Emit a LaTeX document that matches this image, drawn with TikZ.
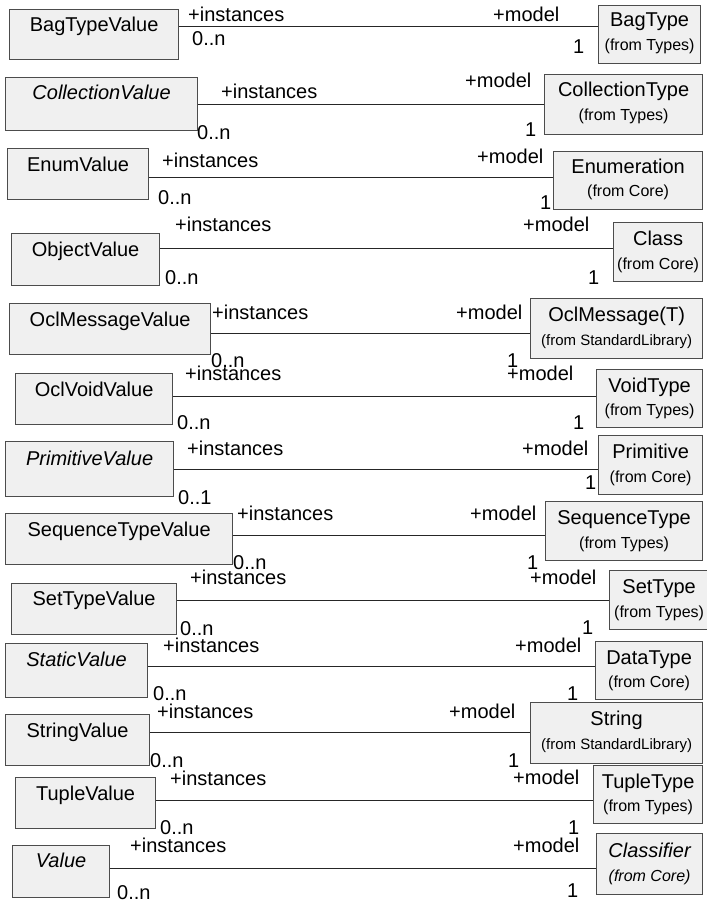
\documentclass[tikz,border=0pt]{standalone}
\usepackage{fontspec}
\setmainfont{Liberation Sans}
\begin{document}
\begin{tikzpicture}[x=1pt,y=-1pt,
  cls/.style={draw=black!70, fill=black!6, line width=1.2pt, rectangle, inner sep=0pt, anchor=north west},
  nm/.style={font=\fontsize{20}{22}\selectfont, inner sep=0pt, anchor=base},
  frm/.style={font=\fontsize{16}{18}\selectfont, inner sep=0pt, anchor=base},
  frms/.style={font=\fontsize{15}{17}\selectfont, inner sep=0pt, anchor=base},
  lbl/.style={font=\fontsize{20}{22}\selectfont, inner sep=0pt, anchor=base west},
  assoc/.style={line width=1pt, draw=black!85}]
\useasboundingbox (0,0) rectangle (706,901);

% Row 1
\node[cls, minimum width=169, minimum height=50] (v1) at (9,9) {};
\node[nm] (v1n) at ([yshift=-23pt]v1.north) {BagTypeValue};
\node[cls, minimum width=102, minimum height=58] (t1) at (598,5) {};
\node[nm] (t1n) at ([yshift=-22pt]t1.north) {BagType};
\node[frm] (t1f) at ([yshift=-46pt]t1.north) {(from Types)};
\draw[assoc] (v1.east |- 0,27) -- (t1.west |- 0,27);
\node[lbl] (i1) at (188,22) {+instances};
\node[lbl] (m1) at (192,46) {0..n};
\node[lbl] (o1) at (493,22) {+model};
\node[lbl] (n1) at (573,54) {1};

% Row 2
\node[cls, minimum width=192, minimum height=53] (v2) at (5,77) {};
\node[nm] (v2n) at ([yshift=-23pt]v2.north) {\itshape CollectionValue};
\node[cls, minimum width=158, minimum height=60] (t2) at (544,74) {};
\node[nm] (t2n) at ([yshift=-23pt]t2.north) {CollectionType};
\node[frm] (t2f) at ([yshift=-47pt]t2.north) {(from Types)};
\draw[assoc] (v2.east |- 0,105) -- (t2.west |- 0,105);
\node[lbl] (i2) at (221,99) {+instances};
\node[lbl] (m2) at (197,140) {0..n};
\node[lbl] (o2) at (465,88) {+model};
\node[lbl] (n2) at (525,137) {1};

% Row 3
\node[cls, minimum width=141, minimum height=51] (v3) at (7,148) {};
\node[nm] (v3n) at ([yshift=-24pt]v3.north) {EnumValue};
\node[cls, minimum width=149, minimum height=58] (t3) at (553,151) {};
\node[nm] (t3n) at ([yshift=-23pt]t3.north) {Enumeration};
\node[frm] (t3f) at ([yshift=-46pt]t3.north) {(from Core)};
\draw[assoc] (v3.east |- 0,178) -- (t3.west |- 0,178);
\node[lbl] (i3) at (162,168) {+instances};
\node[lbl] (m3) at (158,205) {0..n};
\node[lbl] (o3) at (477,164) {+model};
\node[lbl] (n3) at (540,210) {1};

% Row 4
\node[cls, minimum width=148, minimum height=52] (v4) at (11,233) {};
\node[nm] (v4n) at ([yshift=-23pt]v4.north) {ObjectValue};
\node[cls, minimum width=89, minimum height=59] (t4) at (613,222) {};
\node[nm] (t4n) at ([yshift=-23pt]t4.north) {Class};
\node[frm] (t4f) at ([yshift=-47pt]t4.north) {(from Core)};
\draw[assoc] (v4.east |- 0,248) -- (t4.west |- 0,248);
\node[lbl] (i4) at (175,232) {+instances};
\node[lbl] (m4) at (165,284) {0..n};
\node[lbl] (o4) at (523,232) {+model};
\node[lbl] (n4) at (588,284) {1};

% Row 5
\node[cls, minimum width=201, minimum height=51] (v5) at (9,303) {};
\node[nm] (v5n) at ([yshift=-23pt]v5.north) {OclMessageValue};
\node[cls, minimum width=172, minimum height=60] (t5) at (530,298) {};
\node[nm] (t5n) at ([yshift=-23pt]t5.north) {OclMessage(T)};
\node[frms] (t5f) at ([yshift=-47pt]t5.north) {(from StandardLibrary)};
\draw[assoc] (v5.east |- 0,333) -- (t5.west |- 0,333);
\node[lbl] (i5) at (212,319) {+instances};
\node[lbl] (m5) at (211,367) {0..n};
\node[lbl] (o5) at (456,319) {+model};
\node[lbl] (n5) at (507,367) {1};

% Row 6
\node[cls, minimum width=157, minimum height=51] (v6) at (15,373) {};
\node[nm] (v6n) at ([yshift=-23pt]v6.north) {OclVoidValue};
\node[cls, minimum width=106, minimum height=58] (t6) at (596,369) {};
\node[nm] (t6n) at ([yshift=-23pt]t6.north) {VoidType};
\node[frm] (t6f) at ([yshift=-46pt]t6.north) {(from Types)};
\draw[assoc] (v6.east |- 0,396) -- (t6.west |- 0,396);
\node[lbl] (i6) at (185,380) {+instances};
\node[lbl] (m6) at (177,429) {0..n};
\node[lbl] (o6) at (507,380) {+model};
\node[lbl] (n6) at (573,429) {1};

% Row 7
\node[cls, minimum width=168, minimum height=55] (v7) at (5,441) {};
\node[nm] (v7n) at ([yshift=-24pt]v7.north) {\itshape PrimitiveValue};
\node[cls, minimum width=104, minimum height=59] (t7) at (598,435) {};
\node[nm] (t7n) at ([yshift=-23pt]t7.north) {Primitive};
\node[frm] (t7f) at ([yshift=-47pt]t7.north) {(from Core)};
\draw[assoc] (v7.east |- 0,469) -- (t7.west |- 0,469);
\node[lbl] (i7) at (187,455) {+instances};
\node[lbl] (m7) at (178,504) {0..1};
\node[lbl] (o7) at (522,455) {+model};
\node[lbl] (n7) at (585,489) {1};

% Row 8
\node[cls, minimum width=227, minimum height=51] (v8) at (5,513) {};
\node[nm] (v8n) at ([yshift=-23pt]v8.north) {SequenceTypeValue};
\node[cls, minimum width=157, minimum height=59] (t8) at (545,501) {};
\node[nm] (t8n) at ([yshift=-23pt]t8.north) {SequenceType};
\node[frm] (t8f) at ([yshift=-47pt]t8.north) {(from Types)};
\draw[assoc] (v8.east |- 0,535) -- (t8.west |- 0,535);
\node[lbl] (i8) at (237,520) {+instances};
\node[lbl] (m8) at (233,569) {0..n};
\node[lbl] (o8) at (470,520) {+model};
\node[lbl] (n8) at (527,569) {1};

% Row 9
\node[cls, minimum width=165, minimum height=51] (v9) at (11,583) {};
\node[nm] (v9n) at ([yshift=-22pt]v9.north) {SetTypeValue};
\node[cls, minimum width=99, minimum height=59] (t9) at (609,570) {};
\node[nm] (t9n) at ([yshift=-23pt]t9.north) {SetType};
\node[frm] (t9f) at ([yshift=-47pt]t9.north) {(from Types)};
\draw[assoc] (v9.east |- 0,600) -- (t9.west |- 0,600);
\node[lbl] (i9) at (190,584) {+instances};
\node[lbl] (m9) at (180,635) {0..n};
\node[lbl] (o9) at (530,584) {+model};
\node[lbl] (n9) at (582,634) {1};

% Row 10
\node[cls, minimum width=142, minimum height=54] (v10) at (5,643) {};
\node[nm] (v10n) at ([yshift=-23pt]v10.north) {\itshape StaticValue};
\node[cls, minimum width=107, minimum height=58] (t10) at (595,641) {};
\node[nm] (t10n) at ([yshift=-23pt]t10.north) {DataType};
\node[frm] (t10f) at ([yshift=-46pt]t10.north) {(from Core)};
\draw[assoc] (v10.east |- 0,666) -- (t10.west |- 0,666);
\node[lbl] (i10) at (163,652) {+instances};
\node[lbl] (m10) at (153,700) {0..n};
\node[lbl] (o10) at (515,652) {+model};
\node[lbl] (n10) at (567,700) {1};

% Row 11
\node[cls, minimum width=144, minimum height=51] (v11) at (5,714) {};
\node[nm] (v11n) at ([yshift=-23pt]v11.north) {StringValue};
\node[cls, minimum width=172, minimum height=61] (t11) at (530,702) {};
\node[nm] (t11n) at ([yshift=-23pt]t11.north) {String};
\node[frms] (t11f) at ([yshift=-47pt]t11.north) {(from StandardLibrary)};
\draw[assoc] (v11.east |- 0,732) -- (t11.west |- 0,732);
\node[lbl] (i11) at (157,718) {+instances};
\node[lbl] (m11) at (150,767) {0..n};
\node[lbl] (o11) at (449,718) {+model};
\node[lbl] (n11) at (508,767) {1};

% Row 12
\node[cls, minimum width=140, minimum height=51] (v12) at (15,777) {};
\node[nm] (v12n) at ([yshift=-23pt]v12.north) {TupleValue};
\node[cls, minimum width=109, minimum height=58] (t12) at (593,765) {};
\node[nm] (t12n) at ([yshift=-23pt]t12.north) {TupleType};
\node[frm] (t12f) at ([yshift=-46pt]t12.north) {(from Types)};
\draw[assoc] (v12.east |- 0,800) -- (t12.west |- 0,800);
\node[lbl] (i12) at (170,785) {+instances};
\node[lbl] (m12) at (160,834) {0..n};
\node[lbl] (o12) at (513,784) {+model};
\node[lbl] (n12) at (568,834) {1};

% Row 13
\node[cls, minimum width=97, minimum height=52] (v13) at (12,845) {};
\node[nm] (v13n) at ([yshift=-22pt]v13.north) {\itshape Value};
\node[cls, minimum width=106, minimum height=61] (t13) at (596,833) {};
\node[nm] (t13n) at ([yshift=-24pt]t13.north) {\itshape Classifier};
\node[frm] (t13f) at ([yshift=-48pt]t13.north) {\itshape (from Core)};
\draw[assoc] (v13.east |- 0,868) -- (t13.west |- 0,868);
\node[lbl] (i13) at (130,852) {+instances};
\node[lbl] (m13) at (117,899) {0..n};
\node[lbl] (o13) at (513,852) {+model};
\node[lbl] (n13) at (567,897) {1};
\end{tikzpicture}
\end{document}
